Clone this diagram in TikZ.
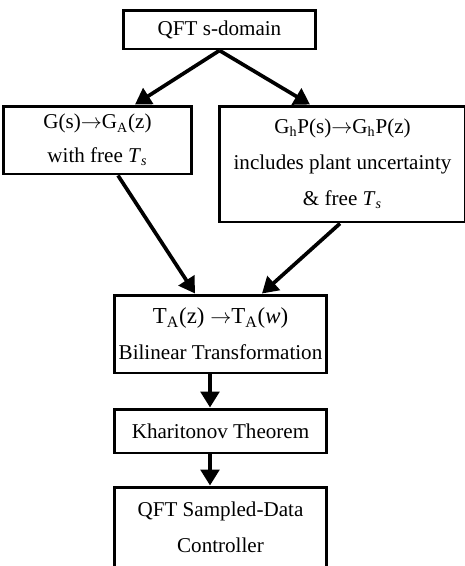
\documentclass[tikz,border=0pt]{standalone}
\usepackage{fontspec}
\setmainfont{Liberation Serif}
\usetikzlibrary{arrows.meta}

\begin{document}
\begin{tikzpicture}[x=0.02cm,y=-0.02cm,
    block/.style={draw,line width=1.7pt,align=center,inner sep=0pt,
        font=\fontsize{12}{20.5}\selectfont},
    flow/.style={line width=2.1pt,-{Triangle[length=9pt,width=10.5pt]}}]
    \useasboundingbox (0,0) rectangle (465,566);

    \node[block,minimum width=3.86cm,minimum height=0.78cm] (sdom) at (219.5,29.5) {QFT s-domain};
    \node[block,minimum width=3.78cm,minimum height=1.36cm] (gz) at (97.5,140)
        {G(s)$\rightarrow$G\textsubscript{A}(z)\\[-1.5pt]with free \textit{T}\textsubscript{\textit{s}}};
    \node[block,minimum width=4.94cm,minimum height=2.32cm] (ghp) at (342.5,164)
        {G\textsubscript{h}P(s)$\rightarrow$G\textsubscript{h}P(z)\\includes plant uncertainty\\\& free \textit{T}\textsubscript{\textit{s}}};
    \node[block,minimum width=4.26cm,minimum height=1.56cm] (bilin) at (220.5,334)
        {{\fontsize{13}{20.5}\selectfont T\textsubscript{A}(z) $\rightarrow$T\textsubscript{A}(\textit{w})}\\Bilinear Transformation};
    \node[block,minimum width=4.26cm,minimum height=0.88cm] (khar) at (220.5,431) {Kharitonov Theorem};
    \node[block,minimum width=4.26cm,minimum height=1.62cm] (ctrl) at (220.5,527.5)
        {QFT Sampled-Data\\Controller};

    % arrows
    \draw[flow] (sdom.south) -- ([xshift=0.75cm]gz.north);
    \draw[flow] (sdom.south) -- ([xshift=-0.65cm]ghp.north);
    \draw[flow] ([xshift=0.41cm]gz.south) -- ([xshift=-0.51cm]bilin.north);
    \draw[flow] ([xshift=-0.05cm]ghp.south) -- ([xshift=0.83cm]bilin.north);
    \draw[flow] ([xshift=-0.21cm]bilin.south) -- ([xshift=-0.21cm]khar.north);
    \draw[flow] ([xshift=-0.21cm]khar.south) -- ([xshift=-0.21cm]ctrl.north);
\end{tikzpicture}
\end{document}
